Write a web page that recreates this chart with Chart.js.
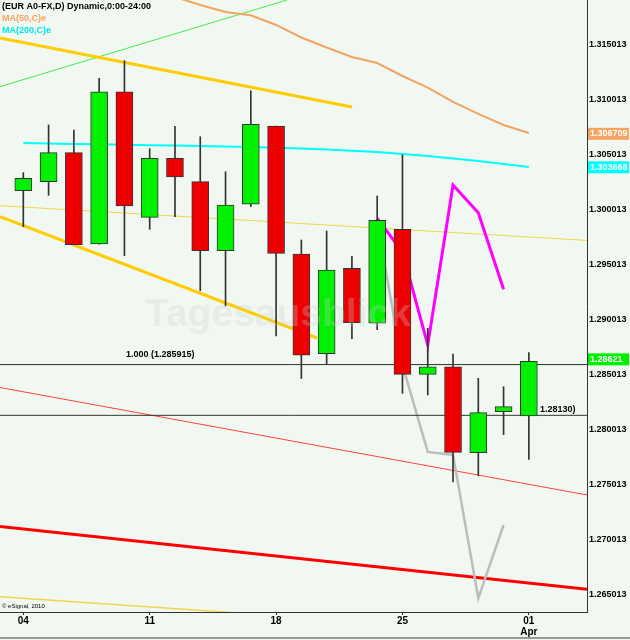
<!DOCTYPE html>
<html>
<head>
<meta charset="utf-8">
<script src="https://cdn.jsdelivr.net/npm/chart.js@4.4.0/dist/chart.umd.min.js"></script>
<style>
  html, body { margin: 0; padding: 0; background: #F1F8F1; }
  #wrap { width: 630px; height: 640px; }
</style>
</head>
<body>
<div id="wrap"><canvas id="myChart" width="630" height="640"></canvas></div>
<script>
// daily candles, 04 Mar - 01 Apr 2010 (x = trading day index)
const opens  = [1.30172, 1.30254, 1.30518, 1.29688, 1.31072, 1.29930, 1.30467, 1.30254, 1.29627, 1.30049, 1.30760,
                1.29597, 1.28690, 1.29467, 1.28967, 1.29821, 1.28503, 1.28572, 1.27790, 1.28163, 1.28124];
const highs  = [1.30336, 1.30770, 1.30724, 1.31194, 1.31354, 1.30554, 1.30758, 1.30663, 1.30345, 1.31081, 1.30760,
                1.29724, 1.29806, 1.29576, 1.30124, 1.30497, 1.28921, 1.28688, 1.28467, 1.28390, 1.28700];
const lows   = [1.29845, 1.30130, 1.29681, 1.29685, 1.29581, 1.29821, 1.29936, 1.29263, 1.29124, 1.30027, 1.28851,
                1.28465, 1.28594, 1.28827, 1.28909, 1.28330, 1.28315, 1.27524, 1.27581, 1.27954, 1.27730];
const closes = [1.30285, 1.30518, 1.29681, 1.31072, 1.30033, 1.30467, 1.30297, 1.29627, 1.30042, 1.30776, 1.29603,
                1.28676, 1.29451, 1.28972, 1.29903, 1.28503, 1.28572, 1.27794, 1.28154, 1.28209, 1.28621];

// moving averages
const ma50Start = 6;
const ma50 = [1.31933, 1.31860, 1.31797, 1.31767, 1.31679, 1.31565, 1.31474, 1.31388, 1.31333, 1.31215,
              1.31110, 1.30979, 1.30870, 1.30770, 1.30697];
const ma200 = [1.30606, 1.30601, 1.30597, 1.30594, 1.30590, 1.30586, 1.30582, 1.30579, 1.30574, 1.30570, 1.30563,
               1.30556, 1.30547, 1.30536, 1.30524, 1.30506, 1.30488, 1.30465, 1.30442, 1.30415, 1.30388];

// projection paths
const pathStart = 14;
const magentaPath = [1.29921, 1.29615, 1.28770, 1.30224, 1.29972, 1.29276];
const grayPath    = [1.29888, 1.28588, 1.27797, 1.27770, 1.26467, 1.27133];

// trend lines: [x0, y0, x1, y1]
const xMin = -0.922, xMax = 22.30;
const goldUpper  = [xMin, 1.31560, 13.0, 1.30933];
const goldLower  = [xMin, 1.29936, 11.62, 1.28833];
const greenTrend = [xMin, 1.31118, 10.43, 1.31906];
const yellowThin = [xMin, 1.30036, xMax, 1.29720];
const redThin    = [xMin, 1.28383, xMax, 1.27406];
const redThick   = [xMin, 1.27120, xMax, 1.26549];
const goldBottom = [xMin, 1.26481, 9.36, 1.26320];

// horizontal levels
const fibLevel = 1.285915;
const level2 = 1.28130;

// axes
const yMin = 1.263422, yMax = 1.319058;
const yTicks = [1.265013, 1.270013, 1.275013, 1.280013, 1.285013, 1.290013, 1.295013, 1.300013, 1.305013, 1.310013, 1.315013];
const xTickIdx = [0, 5, 10, 15, 20];
const xTickText = ['04', '11', '18', '25', ['01', 'Apr']];

// last values shown on the price axis
const lastMa50 = 1.306709;
const lastMa200 = 1.303668;
const lastClose = 1.28621;

const FONT = "'Liberation Sans', Arial, sans-serif";

function seg(a) {
    return [{ x: a[0], y: a[1] }, { x: a[2], y: a[3] }];
}

function path(start, vals) {
    return vals.map((v, i) => ({ x: start + i, y: v }));
}

function lineSet(data, color, width, order) {
    return {
        type: 'line',
        data: data,
        borderColor: color,
        borderWidth: width,
        pointRadius: 0,
        fill: false,
        tension: 0,
        order: order
    };
}

const candleColors = closes.map((c, i) => c >= opens[i] ? '#00F000' : '#EE0000');

const decorPlugin = {
    id: 'decor',
    beforeDraw(chart) {
        const ctx = chart.ctx;
        ctx.save();
        ctx.fillStyle = '#F1F8F1';
        ctx.fillRect(0, 0, chart.width, chart.height);
        ctx.restore();
    },
    afterDatasetsDraw(chart) {
        const ctx = chart.ctx;
        ctx.save();
        ctx.font = 'bold 39px ' + FONT;
        ctx.fillStyle = 'rgba(200,208,200,0.28)';
        ctx.textBaseline = 'alphabetic';
        ctx.fillText('Tagesausblick', 145, 326);
        ctx.restore();
    },
    afterDraw(chart) {
        const ctx = chart.ctx;
        const ys = chart.scales.y;
        const area = chart.chartArea;
        ctx.save();
        ctx.textBaseline = 'middle';

        ctx.font = 'bold 9px ' + FONT;
        ctx.fillStyle = '#000';
        ctx.fillText('(EUR A0-FX,D) Dynamic,0:00-24:00', 2, 7);
        ctx.fillStyle = '#F4A460';
        ctx.fillText('MA(50,C)e', 2, 19);
        ctx.fillStyle = '#00E8E8';
        ctx.fillText('MA(200,C)e', 2, 31);

        ctx.fillStyle = '#000';
        ctx.fillText('1.000 (' + fibLevel.toFixed(6) + ')', 126, ys.getPixelForValue(fibLevel) - 10);
        ctx.fillText(level2.toFixed(5) + ')', 540, ys.getPixelForValue(level2) - 6);

        ctx.font = '6px ' + FONT;
        ctx.fillText('\u00A9 eSignal, 2010', 2, area.bottom - 6);

        // price boxes on the axis
        const boxes = [[lastMa50, '#F4A460'], [lastMa200, '#00FFFF'], [lastClose, '#00F000']];
        ctx.font = 'bold 9px ' + FONT;
        boxes.forEach(([v, col]) => {
            const y = ys.getPixelForValue(v) - 2;
            ctx.fillStyle = col;
            ctx.fillRect(area.right + 1, y - 6, 41, 12);
            ctx.fillStyle = '#fff';
            const txt = v === lastClose ? v.toFixed(5) : v.toFixed(6);
            ctx.fillText(txt, area.right + 3, y);
        });

        ctx.strokeStyle = '#999';
        ctx.lineWidth = 2;
        ctx.beginPath();
        ctx.moveTo(0, 638);
        ctx.lineTo(chart.width, 638);
        ctx.stroke();
        ctx.restore();
    }
};

let myChart = null;

function createChart() {
    if (myChart !== null) {
        myChart.destroy();
    }
    const ctx = document.getElementById('myChart').getContext('2d');
    myChart = new Chart(ctx, {
        type: 'bar',
        data: {
            datasets: [
                {
                    type: 'bar',
                    data: opens.map((o, i) => ({ x: i, y: [o, closes[i]] })),
                    backgroundColor: candleColors,
                    borderColor: '#333',
                    borderWidth: 1,
                    borderSkipped: false,
                    barThickness: 17,
                    grouped: false,
                    order: 0
                },
                {
                    type: 'bar',
                    data: lows.map((l, i) => ({ x: i, y: [l, highs[i]] })),
                    backgroundColor: '#333',
                    borderWidth: 0,
                    barThickness: 1,
                    grouped: false,
                    order: 1
                },
                lineSet(seg([xMin, fibLevel, xMax, fibLevel]), '#333', 1, 2),
                lineSet(seg([xMin, level2, xMax, level2]), '#333', 1, 2),
                lineSet(path(pathStart, magentaPath), '#FF00FF', 3, 3),
                lineSet(path(pathStart, grayPath), '#BDBDBD', 2.5, 3),
                lineSet(path(ma50Start, ma50), '#F4A460', 2, 4),
                lineSet(path(0, ma200), '#00FFFF', 2, 4),
                lineSet(seg(goldUpper), '#FFCC00', 3, 5),
                lineSet(seg(goldLower), '#FFCC00', 3, 5),
                lineSet(seg(greenTrend), '#44EE44', 1, 5),
                lineSet(seg(yellowThin), '#F2D54A', 1, 5),
                lineSet(seg(redThin), '#FF4040', 1, 5),
                lineSet(seg(redThick), '#FF0000', 3, 5),
                lineSet(seg(goldBottom), '#F2D54A', 1.5, 5)
            ]
        },
        options: {
            responsive: false,
            animation: false,
            layout: { padding: 0, autoPadding: false },
            plugins: {
                legend: { display: false },
                tooltip: { enabled: false }
            },
            scales: {
                x: {
                    type: 'linear',
                    min: xMin,
                    max: xMax,
                    offset: false,
                    grid: { drawOnChartArea: false, drawTicks: true, tickLength: 3, color: '#333', offset: false },
                    border: { display: true, color: '#333', width: 1 },
                    afterBuildTicks: (s) => { s.ticks = xTickIdx.map(v => ({ value: v })); },
                    afterFit: (s) => { s.height = 28; s.paddingLeft = 0; s.paddingRight = 0; },
                    ticks: {
                        autoSkip: false,
                        maxRotation: 0,
                        padding: 1,
                        color: '#000',
                        font: { family: FONT, size: 10, weight: 'bold', lineHeight: 1.1 },
                        callback: (v) => {
                            const k = xTickIdx.indexOf(v);
                            return k >= 0 ? xTickText[k] : '';
                        }
                    }
                },
                y: {
                    position: 'right',
                    min: yMin,
                    max: yMax,
                    grid: { drawOnChartArea: false, drawTicks: false },
                    border: { display: true, color: '#333', width: 1 },
                    afterBuildTicks: (s) => { s.ticks = yTicks.map(v => ({ value: v })); },
                    afterFit: (s) => { s.width = 43; s.paddingTop = 0; s.paddingBottom = 0; },
                    ticks: {
                        padding: 2,
                        color: '#000',
                        font: { family: FONT, size: 9, weight: 'bold' },
                        callback: (v) => v.toFixed(6)
                    }
                }
            }
        },
        plugins: [decorPlugin]
    });
}

createChart();
</script>
</body>
</html>
